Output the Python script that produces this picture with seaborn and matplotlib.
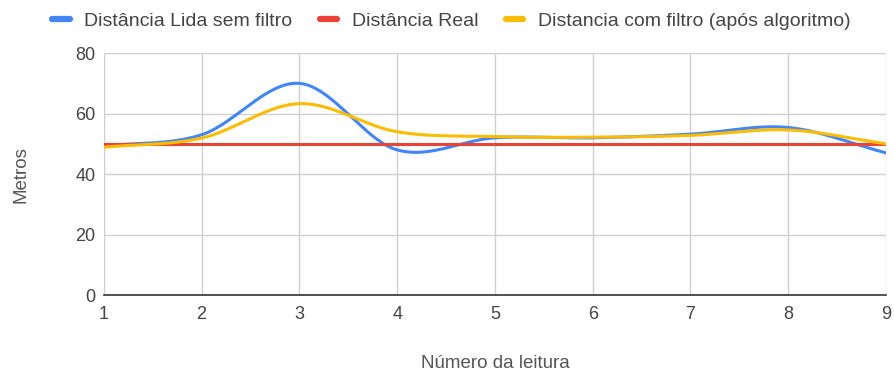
import numpy as np
import pandas as pd
import matplotlib
matplotlib.use("Agg")
import matplotlib.pyplot as plt
import seaborn as sns

# Data
leitura = [1, 2, 3, 4, 5, 6, 7, 8, 9]
sem_filtro = [49.3, 53, 70, 48, 52, 52, 53.2, 55.4, 47]
real = [50, 50, 50, 50, 50, 50, 50, 50, 50]
com_filtro = [48.9, 51.9, 63.3, 54, 52.4, 52.2, 52.8, 54.6, 50]

nomes = ["Distância Lida sem filtro", "Distância Real", "Distancia com filtro (após algoritmo)"]
cores = ["#4285F4", "#EA4335", "#FBBC04"]


def suavizar(x, y, n=40):
    # cubic hermite (catmull-rom) curve through the points, like the sheets "smooth" option
    x = np.asarray(x, float)
    y = np.asarray(y, float)
    m = np.gradient(y, x)
    xs, ys = [], []
    for i in range(len(x) - 1):
        t = np.linspace(0, 1, n, endpoint=False)
        h = x[i + 1] - x[i]
        h00 = 2 * t**3 - 3 * t**2 + 1
        h10 = t**3 - 2 * t**2 + t
        h01 = -2 * t**3 + 3 * t**2
        h11 = t**3 - t**2
        xs.append(x[i] + t * h)
        ys.append(h00 * y[i] + h10 * h * m[i] + h01 * y[i + 1] + h11 * h * m[i + 1])
    xs.append([x[-1]])
    ys.append([y[-1]])
    return np.concatenate(xs), np.concatenate(ys)


sns.set_style("whitegrid")
plt.rcParams["font.family"] = ["Liberation Sans", "DejaVu Sans"]

fig = plt.figure(figsize=(8.95, 3.74), dpi=100)
ax = fig.add_axes([0.116, 0.211, 0.874, 0.647])

for nome, serie, cor in zip(nomes, [sem_filtro, real, com_filtro], cores):
    sx, sy = suavizar(leitura, serie)
    sns.lineplot(x=sx, y=sy, ax=ax, color=cor, linewidth=2.2, label=nome, sort=False)

ax.set_xlim(1, 9)
ax.set_ylim(0, 80)
ax.set_xticks(leitura)
ax.set_yticks([0, 20, 40, 60, 80])
ax.grid(True, color="#d0d0d0", linewidth=1)
for s in ["top", "right", "left"]:
    ax.spines[s].set_visible(False)
ax.spines["bottom"].set_color("#333333")
ax.spines["bottom"].set_linewidth(1.2)
ax.tick_params(axis="both", length=0, labelsize=13, labelcolor="#444444")
ax.tick_params(axis="x", pad=8)
ax.tick_params(axis="y", pad=6)
ax.set_xlabel("Número da leitura", fontsize=13.5, color="#555555", labelpad=23)
ax.set_ylabel("Metros", fontsize=13.5, color="#555555", labelpad=33)

handles, labels = ax.get_legend_handles_labels()
ax.legend_.remove()
leg = fig.legend(handles, labels, loc="upper left", bbox_to_anchor=(0.039, 1.015), ncol=3,
                 frameon=False, fontsize=14, handlelength=0.9, handletextpad=0.75,
                 columnspacing=1.4)
for h in leg.legend_handles:
    h.set_linewidth(4.5)
for t in leg.get_texts():
    t.set_color("#444444")

fig.savefig("out.png", dpi=100)
